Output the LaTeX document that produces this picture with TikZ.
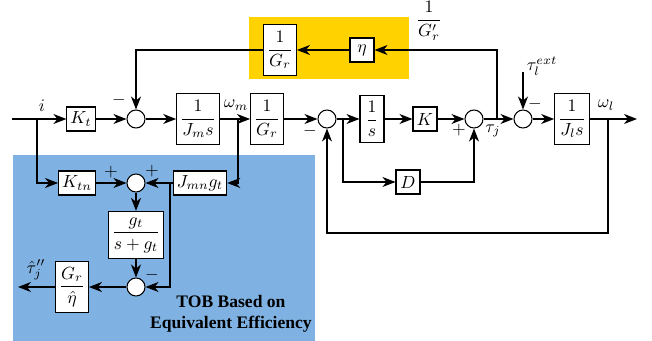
\documentclass[tikz,border=0pt]{standalone}
\usepackage{amsmath}
\usepackage{fontspec}
\newfontfamily\tobfont{Liberation Serif}
\usepackage{xcolor}
\definecolor{tobblue}{RGB}{127,178,226}
\definecolor{etagold}{RGB}{255,210,0}
\usetikzlibrary{arrows.meta,positioning}

\begin{document}
\begin{tikzpicture}[
  x=0.02cm, y=-0.02cm,
  blk/.style={draw, fill=white, inner sep=2pt, minimum size=0.48cm, line width=0.6pt},
  fblk/.style={blk, inner ysep=3.5pt},
  sumn/.style={circle, draw, fill=white, minimum size=0.36cm, inner sep=0pt, line width=0.6pt},
  arr/.style={-{Stealth[length=2.6mm,width=2mm,inset=0.8mm]}, line width=0.7pt},
  lbl/.style={inner sep=0pt}
]
\useasboundingbox (0,0) rectangle (652,341);
% coloured areas
\fill[etagold] (249,17) rectangle (409,79);
\fill[tobblue] (13,155) rectangle (315,341);

% forward path
\node[blk] (kt)  at (81,119)  {$K_t$};
\node[sumn] (s1) at (136,119) {};
\node[fblk] (jm)  at (198,119) {$\dfrac{1}{J_m s}$};
\node[fblk] (gr)  at (267,119) {$\dfrac{1}{G_r}$};
\node[sumn] (s2) at (327,119) {};
\node[fblk] (int) at (372,119) {$\dfrac{1}{s}$};
\node[blk] (k)   at (425,119) {$K$};
\node[sumn] (s3) at (474,119) {};
\node[sumn] (s4) at (523,119) {};
\node[fblk] (jl)  at (572,119) {$\dfrac{1}{J_l s}$};
\node[blk] (d)   at (408,182) {$D$};
% friction feedback
\node[blk] (eta)   at (362,50) {$\eta$};
\node[fblk] (grinv) at (280,50) {$\dfrac{1}{G_r}$};
% observer
\node[blk] (ktn)   at (77,183)  {$K_{tn}$};
\node[sumn] (s5)   at (136,183) {};
\node[blk] (jmn)   at (200,183) {$J_{mn} g_t$};
\node[fblk] (lpf)   at (136,235) {$\dfrac{g_t}{s+g_t}$};
\node[sumn] (s6)   at (136,287) {};
\node[fblk] (greta) at (72,287)  {$\dfrac{G_r}{\hat{\eta}}$};

\coordinate (in)   at (12,119);
\coordinate (bi)   at (37,119);
\coordinate (bwm)  at (238,119);
\coordinate (be)   at (343,119);
\coordinate (btj)  at (497,119);
\coordinate (bwl)  at (608,119);
\coordinate (out)  at (637,119);
\coordinate (text) at (523,72);
\coordinate (bj)   at (170,183);
\coordinate (tout) at (18,287);

\draw[arr] (in) -- (kt);
\draw[arr] (kt) -- (s1);
\draw[arr] (s1) -- (jm);
\draw[arr] (jm) -- (gr);
\draw[arr] (gr) -- (s2);
\draw[arr] (s2) -- (int);
\draw[arr] (int) -- (k);
\draw[arr] (k) -- (s3);
\draw[arr] (s3) -- (s4);
\draw[arr] (s4) -- (jl);
\draw[arr] (jl) -- (out);
\draw[arr] (text) -- (s4);
\draw[arr] (btj) |- (eta);
\draw[arr] (eta) -- (grinv);
\draw[arr] (grinv) -| (s1);
\draw[arr] (be) |- (d);
\draw[arr] (d) -| (s3);
\draw[arr] (bwl) -- ++(0,114) -| (s2);

\draw[arr] (bi) |- (ktn);
\draw[arr] (ktn) -- (s5);
\draw[arr] (bwm) |- (jmn);
\draw[arr] (jmn) -- (s5);
\draw[arr] (s5) -- (lpf);
\draw[arr] (lpf) -- (s6);
\draw[arr] (bj) |- (s6);
\draw[arr] (s6) -- (greta);
\draw[arr] (greta) -- (tout);

% labels
\node[lbl] (li)   at (42,106)  {$i$};
\node[lbl] (lwm)  at (236,105) {$\omega_m$};
\node[lbl] (lwl)  at (606,105) {$\omega_l$};
\node[lbl] (ltj)  at (493,131) {$\tau_j$};
\node[lbl] (lext) at (542,66)  {$\tau_l^{ext}$};
\node[lbl] (lgr)  at (429,21)  {$\dfrac{1}{G_r'}$};
\node[lbl] (lth)  at (36,270)  {$\hat{\tau}_j''$};
\node[lbl] (m1) at (119,100) {$-$};
\node[lbl] (m2) at (310,131) {$-$};
\node[lbl] (p3) at (459,130) {$+$};
\node[lbl] (m4) at (535,104) {$-$};
\node[lbl] (p5) at (111,172) {$+$};
\node[lbl] (p6) at (152,171) {$+$};
\node[lbl] (m6) at (152,275) {$-$};
\node[align=center, font=\tobfont\bfseries] (tob) at (231,314)
  {TOB Based on\\Equivalent Efficiency};
\end{tikzpicture}
\end{document}
